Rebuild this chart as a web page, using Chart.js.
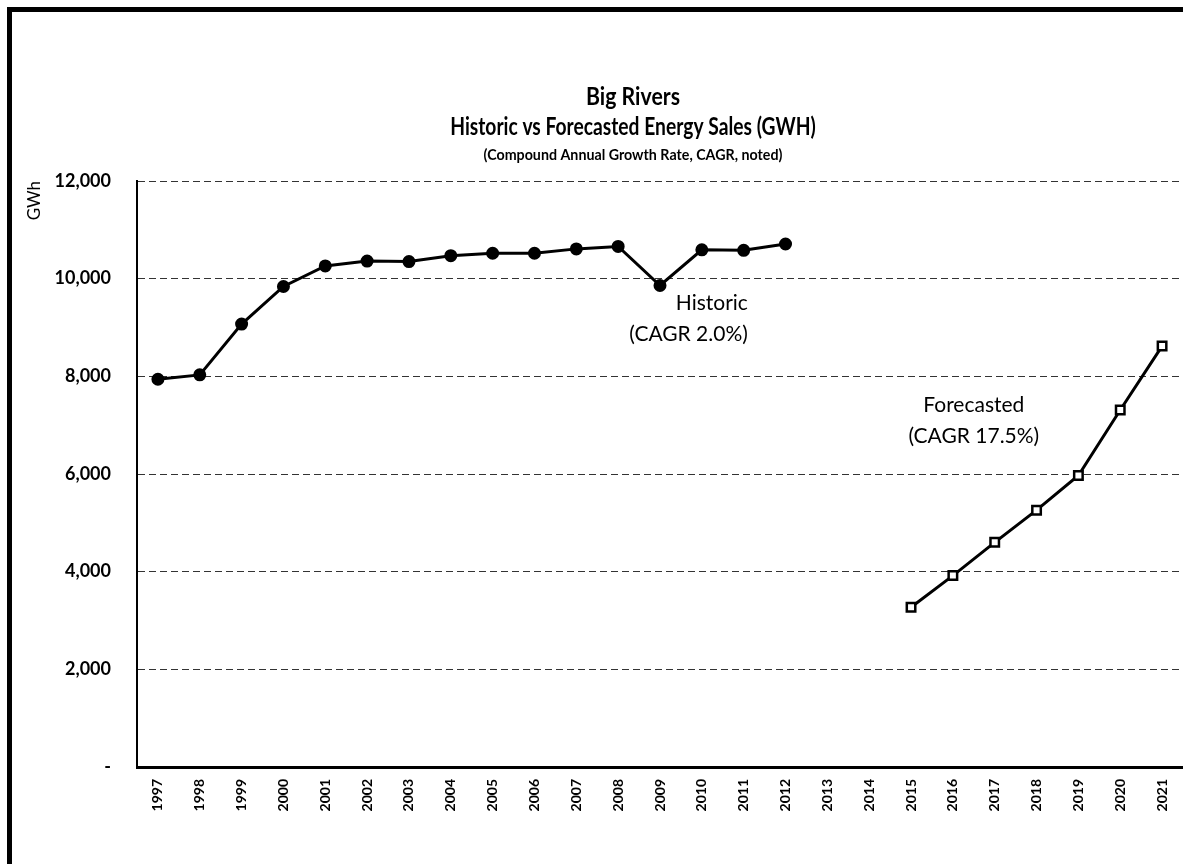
<!DOCTYPE html>
<html>
<head>
<meta charset="utf-8">
<script src="https://cdn.jsdelivr.net/npm/chart.js@4"></script>
<style>
  html, body { margin: 0; padding: 0; overflow: hidden; background: #fff; }
  #wrap { position: relative; width: 1183px; height: 864px; }
  #frame { position: absolute; left: 7px; top: 7px; width: 2000px; height: 2000px; border: 5px solid #000; pointer-events: none; }
  canvas { position: absolute; left: 0; top: 0; }
</style>
</head>
<body>
<div id="wrap">
  <canvas id="salesChart" width="1183" height="864"></canvas>
  <div id="frame"></div>
</div>
<script>
// years on the x axis
const years = ["1997", "1998", "1999", "2000", "2001", "2002", "2003", "2004", "2005", "2006", "2007", "2008",
  "2009", "2010", "2011", "2012", "2013", "2014", "2015", "2016", "2017", "2018", "2019", "2020", "2021"];

// GWh
const historic = [7940, 8030, 9070, 9840, 10260, 10360, 10350, 10470, 10520, 10520, 10610, 10660,
  9860, 10590, 10580, 10710, null, null, null, null, null, null, null, null, null];
const forecasted = [null, null, null, null, null, null, null, null, null, null, null, null,
  null, null, null, null, null, null, 3270, 3920, 4600, 5260, 5970, 7310, 8620];

const yTicks = [0, 2000, 4000, 6000, 8000, 10000, 12000];

const titleLines = ["Big Rivers", "Historic vs Forecasted Energy Sales (GWH)"];
const subTitle = "(Compound Annual Growth Rate, CAGR, noted)";

// text notes placed in data units (x = category index, y = GWh)
const notes = [
  { lines: ["Historic", "(CAGR 2.0%)"], x: 14.1, y: [9500, 8870], align: "right" },
  { lines: ["Forecasted", "(CAGR 17.5%)"], x: 19.5, y: [7410, 6780], align: "center" }
];

Chart.defaults.font.family = "Lato, 'Noto Sans', sans-serif";
Chart.defaults.color = "#000";

// the title font in the picture is narrow, so squeeze Lato a little
function squeezedText(c, text, x, y, sx) {
  c.save();
  c.translate(x, y);
  c.scale(sx, 1);
  c.fillText(text, 0, 0);
  c.restore();
}

const titlePlugin = {
  id: "titleText",
  afterDraw(chart) {
    const c = chart.ctx;
    c.save();
    c.fillStyle = "#000";
    c.textAlign = "center";
    c.textBaseline = "middle";
    c.font = "bold 25px Lato";
    squeezedText(c, titleLines[0], 633, 97, 0.85);
    squeezedText(c, titleLines[1], 633, 127, 0.77);
    c.font = "bold 15px Lato";
    squeezedText(c, subTitle, 633, 155, 0.95);
    c.restore();
  }
};

const notePlugin = {
  id: "notes",
  afterDatasetsDraw(chart) {
    const c = chart.ctx;
    const xs = chart.scales.x, ys = chart.scales.y;
    c.save();
    c.fillStyle = "#000";
    c.textBaseline = "middle";
    c.font = "21px Lato";
    notes.forEach(n => {
      c.textAlign = n.align;
      const px = xs.getPixelForValue(n.x);
      n.lines.forEach((t, i) => c.fillText(t, px, ys.getPixelForValue(n.y[i])));
    });
    c.restore();
  }
};

new Chart(document.getElementById("salesChart"), {
  type: "line",
  data: {
    labels: years,
    datasets: [{
      label: "Historic",
      data: historic,
      borderColor: "#000",
      backgroundColor: "#000",
      borderWidth: 3,
      pointRadius: 5,
      pointStyle: "circle",
      pointBackgroundColor: "#000",
      tension: 0
    }, {
      label: "Forecasted",
      data: forecasted,
      borderColor: "#000",
      backgroundColor: "#fff",
      borderWidth: 3,
      pointRadius: 6,
      pointStyle: "rect",
      pointBorderWidth: 2.5,
      pointBackgroundColor: "#fff",
      tension: 0
    }]
  },
  options: {
    responsive: false,
    animation: false,
    devicePixelRatio: 1,
    layout: { autoPadding: false, padding: { top: 181, left: 0, right: 0, bottom: 0 } },
    plugins: {
      legend: { display: false },
      tooltip: { enabled: false }
    },
    scales: {
      x: {
        offset: true,
        grid: { display: false, drawTicks: false },
        border: { color: "#000", width: 3 },
        ticks: {
          autoSkip: false,
          minRotation: 90,
          maxRotation: 90,
          padding: 12,
          font: { size: 14, weight: "bold" }
        },
        afterFit(scale) {
          scale.height = 97;
          scale.paddingLeft = 0;
          scale.paddingRight = 0;
        }
      },
      y: {
        min: 0,
        max: 12000,
        afterBuildTicks(scale) { scale.ticks = yTicks.map(v => ({ value: v })); },
        grid: {
          drawTicks: false,
          color: ctx => ctx.tick && ctx.tick.value === 0 ? "rgba(0,0,0,0)" : "#333",
          lineWidth: 1
        },
        border: { color: "#000", width: 2, dash: [7, 4] },
        ticks: {
          padding: 26,
          font: { size: 18, weight: "bold" },
          callback: v => v === 0 ? "-" : v.toLocaleString("en-US")
        },
        title: {
          display: true,
          text: "GWh",
          align: "end",
          padding: { top: 24, bottom: 0 },
          font: { size: 17 }
        },
        afterFit(scale) { scale.width = 137; }
      }
    }
  },
  plugins: [titlePlugin, notePlugin]
});
</script>
</body>
</html>
